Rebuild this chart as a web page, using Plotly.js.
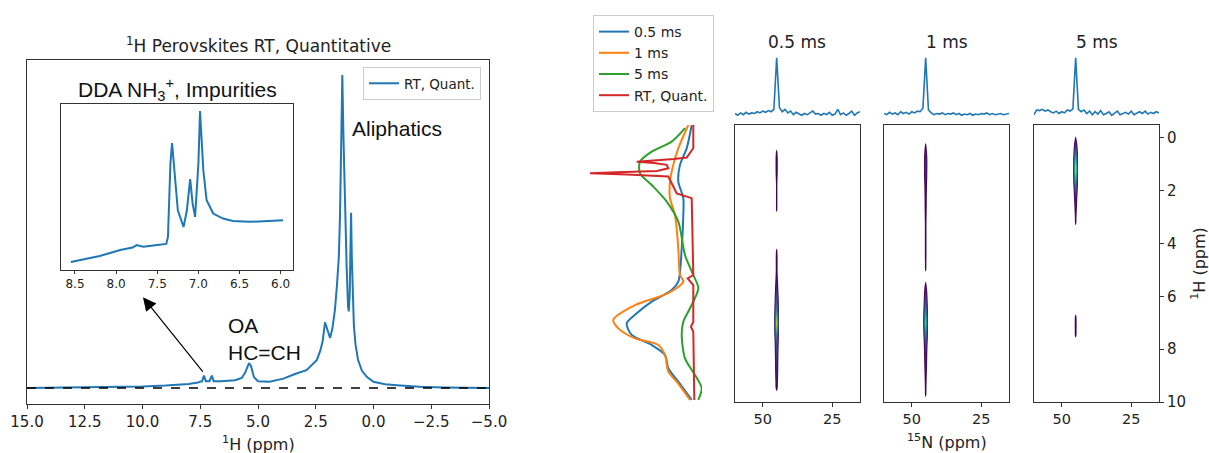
<!DOCTYPE html>
<html><head><meta charset="utf-8">
<script src="https://cdn.plot.ly/plotly-3.0.1.min.js"></script>
<style>html,body{margin:0;padding:0;background:#fff}#c{width:1209px;height:453px}</style>
</head><body><div id="c"></div>
<script>
// ---- Left: 1H quantitative spectrum (ppm, intensity) ----
const hX = [15, 12, 10, 9, 8, 7.6, 7.42, 7.34, 7.26, 7.1, 7.0, 6.92, 6.6, 6.0, 5.7, 5.55, 5.45, 5.39, 5.3, 5.18, 5.0, 4.5, 3.9, 3.4, 2.9, 2.6, 2.45, 2.3, 2.2, 2.1, 2.0, 1.88, 1.78, 1.67, 1.58, 1.5, 1.45, 1.4, 1.35, 1.3, 1.22, 1.16, 1.1, 1.07, 1.03, 1.0, 0.97, 0.94, 0.9, 0.85, 0.78, 0.67, 0.5, 0.28, 0, -0.5, -1.15, -2, -3, -5];
const hY = [0, 0.002, 0.005, 0.008, 0.013, 0.018, 0.022, 0.04, 0.022, 0.022, 0.04, 0.022, 0.022, 0.025, 0.032, 0.05, 0.072, 0.08, 0.07, 0.035, 0.022, 0.02, 0.03, 0.045, 0.057, 0.08, 0.09, 0.12, 0.15, 0.21, 0.19, 0.16, 0.19, 0.25, 0.33, 0.42, 0.55, 0.8, 1.0, 0.8, 0.5, 0.38, 0.26, 0.245, 0.3, 0.42, 0.56, 0.42, 0.3, 0.2, 0.14, 0.09, 0.055, 0.035, 0.02, 0.012, 0.008, 0.004, 0.002, 0];
// inset (8.5-6.0 ppm)
const insX = [8.55, 8.2, 7.95, 7.8, 7.75, 7.67, 7.5, 7.39, 7.37, 7.34, 7.32, 7.29, 7.25, 7.18, 7.14, 7.10, 7.07, 7.04, 7.0, 6.98, 6.94, 6.9, 6.82, 6.7, 6.58, 6.38, 6.2, 5.97];
const insY = [0.048, 0.084, 0.12, 0.135, 0.15, 0.14, 0.15, 0.157, 0.2, 0.64, 0.765, 0.6, 0.36, 0.259, 0.36, 0.548, 0.4, 0.32, 0.64, 0.958, 0.6, 0.42, 0.34, 0.31, 0.295, 0.29, 0.295, 0.30];
const mainTicks = [15, 12.5, 10, 7.5, 5, 2.5, 0, -2.5, -5];
const insTicks = [8.5, 8.0, 7.5, 7.0, 6.5, 6.0];

// ---- Right: 1H projections (intensity, ppm) ----
const blueP = [-0.49, 0.39, 1.02, 1.65, 2.28, 2.92, 4.18, 5.44, 5.76, 6.2, 6.7, 7.02, 7.46, 7.84, 8.22, 8.72, 9.23, 9.92];
const blueI = [10.3, 15.3, 22, 23.7, 18.7, 18.7, 20.3, 23.7, 30.3, 50.3, 67, 75.3, 70.3, 50.3, 37, 33.7, 23.7, 10.3];
const orangeP = [-0.49, 0.39, 1.02, 1.65, 2.28, 2.92, 4.18, 5.19, 5.44, 5.88, 6.33, 6.89, 7.21, 7.59, 7.84, 8.22, 8.85, 9.23, 9.92];
const orangeI = [13.7, 23.7, 28.7, 32, 32, 27, 23.7, 22, 18.7, 33.7, 67, 88.7, 83.7, 67, 43.7, 37, 33.7, 25.3, 12];
const greenP = [-0.37, 0.14, 0.52, 0.9, 1.34, 1.78, 2.41, 3.17, 4.43, 5.19, 5.69, 6.45, 6.96, 7.46, 8.35, 8.98, 9.48, 9.92];
const greenI = [17, 30.3, 50.3, 62, 62, 50.3, 35.3, 23.7, 17, 8.7, 3.7, 12, 18.7, 20.3, 17, 7, 0.3, 3.7];
const redP = [-0.49, 0.39, 0.74, 0.8, 0.86, 0.9, 0.95, 1.02, 1.15, 1.25, 1.3, 1.34, 1.38, 1.46, 1.84, 2.1, 2.28, 5.19, 5.32, 5.57, 6.96, 7.15, 7.34, 9.92];
const redI = [8.7, 8.7, 15.3, 28, 52, 65.3, 48, 35.3, 33.7, 45, 85, 112, 75, 33.7, 28.7, 25.3, 10.3, 8.7, 14.3, 8.7, 8.7, 11, 8.7, 7.7];

// ---- 2D HETCOR maps: 1H grid and intensity along the 15N ~45 ppm line ----
const hGrid = [-0.5, -0.25, 0, 0.25, 0.5, 0.75, 1, 1.25, 1.5, 1.75, 2, 2.25, 2.5, 2.75, 3, 3.25, 3.5, 3.75, 4, 4.25, 4.5, 4.75, 5, 5.25, 5.5, 5.75, 6, 6.25, 6.5, 6.75, 7, 7.25, 7.5, 7.75, 8, 8.25, 8.5, 8.75, 9, 9.25, 9.5, 9.75, 10];
const n15cols = [44, 45, 46];
const map05 = [0, 0, 0, 0, 0.15, 0.2, 0.2, 0.2, 0.18, 0.16, 0.16, 0.16, 0.16, 0.15, 0, 0, 0, 0, 0, 0.15, 0.18, 0.18, 0.18, 0.2, 0.25, 0.3, 0.4, 0.5, 0.65, 0.85, 1.0, 0.85, 0.6, 0.45, 0.38, 0.33, 0.3, 0.28, 0.25, 0.22, 0.18, 0, 0];
const map1 = [0, 0, 0, 0.15, 0.22, 0.3, 0.32, 0.3, 0.28, 0.24, 0.22, 0.2, 0.2, 0.19, 0.18, 0.17, 0.17, 0.17, 0.17, 0.17, 0.17, 0.16, 0.15, 0, 0.15, 0.25, 0.35, 0.45, 0.6, 0.8, 0.9, 0.75, 0.55, 0.4, 0.32, 0.28, 0.25, 0.22, 0.2, 0.18, 0.17, 0.15, 0];
const map5 = [0, 0, 0.15, 0.3, 0.5, 0.75, 0.95, 1.0, 0.85, 0.6, 0.42, 0.3, 0.24, 0.2, 0.17, 0.15, 0, 0, 0, 0, 0, 0, 0, 0, 0, 0, 0, 0, 0, 0.16, 0.18, 0.18, 0.16, 0, 0, 0, 0, 0, 0, 0, 0, 0, 0];

// ---- 15N projections on top ----
const nX = [60, 59, 58, 57, 56, 55, 54, 53, 52, 51, 50, 49, 48, 47, 46, 45, 44, 43, 42, 41, 40, 39, 38, 37, 36, 35, 34, 33, 32, 31, 30, 29, 28, 27, 26, 25, 24, 23, 22, 21, 20, 19, 18, 17, 16, 15];
const n05 = [0.06, 0.03, 0.07, 0.04, 0.08, 0.05, 0.07, 0.06, 0.09, 0.07, 0.1, 0.08, 0.11, 0.09, 0.13, 1.0, 0.16, 0.09, 0.13, 0.07, 0.1, 0.04, 0.08, 0.05, 0.03, 0.06, 0.04, 0.07, 0.1, 0.05, 0.06, 0.03, 0.06, 0.04, 0.08, 0.03, 0.05, 0.13, 0.04, 0.07, 0.03, 0.06, 0.1, 0.03, 0.07, 0.09];
const n1 = [0.06, 0.04, 0.08, 0.05, 0.07, 0.04, 0.09, 0.06, 0.08, 0.05, 0.09, 0.07, 0.1, 0.09, 0.15, 1.0, 0.12, 0.07, 0.04, 0.06, 0.05, 0.07, 0.04, 0.06, 0.05, 0.07, 0.04, 0.06, 0.03, 0.05, 0.04, 0.06, 0.03, 0.05, 0.04, 0.06, 0.05, 0.07, 0.04, 0.06, 0.04, 0.05, 0.06, 0.04, 0.05, 0.06];
const n5 = [0.04, 0.12, 0.11, 0.13, 0.1, 0.12, 0.09, 0.07, 0.1, 0.06, 0.09, 0.07, 0.12, 0.1, 0.14, 1.0, 0.13, 0.09, 0.12, 0.06, 0.1, 0.04, 0.09, 0.05, 0.11, 0.04, 0.06, 0.09, 0.03, 0.07, 0.1, 0.04, 0.06, 0.08, 0.05, 0.1, 0.04, 0.07, 0.09, 0.06, 0.1, 0.05, 0.08, 0.06, 0.09, 0.07];
const panelTitles = ['0.5 ms', '1 ms', '5 ms'];
const seriesNames = ['0.5 ms', '1 ms', '5 ms', 'RT, Quant.'];

const W = 1209, H = 453;
const dx = (a, b) => [a / W, b / W];
const dy = (t, b) => [1 - b / H, 1 - t / H];
const C = ['#1f77b4', '#ff7f0e', '#2ca02c', '#d62728'];
const DV = 'DejaVu Sans', LS = 'Liberation Sans';
const viridis = [[0, 'rgba(255,255,255,0)'], [0.08, 'rgba(255,255,255,0)'], [0.08, '#440154'], [0.18, '#482475'], [0.28, '#3e4a89'], [0.4, '#31688e'], [0.5, '#26828e'], [0.6, '#1f9e89'], [0.7, '#35b779'], [0.8, '#6ece58'], [0.9, '#b5de2b'], [1, '#fde725']];

const traces = [];
traces.push({x: hX, y: hY, xaxis: 'x', yaxis: 'y', mode: 'lines', line: {color: C[0], width: 2}, name: 'RT, Quant.', legend: 'legend', hoverinfo: 'skip'});
traces.push({x: insX, y: insY, xaxis: 'x2', yaxis: 'y2', mode: 'lines', line: {color: C[0], width: 2}, showlegend: false, hoverinfo: 'skip'});
const proj = [[blueI, blueP, 'spline'], [orangeI, orangeP, 'spline'], [greenI, greenP, 'spline'], [redI, redP, 'linear']];
proj.forEach((p, i) => traces.push({x: p[0], y: p[1], xaxis: 'x3', yaxis: 'y3', mode: 'lines', line: {color: C[i], width: 2, shape: p[2], smoothing: 0.8}, name: seriesNames[i], legend: 'legend2', hoverinfo: 'skip'}));
[map05, map1, map5].forEach((m, k) => traces.push({type: 'contour', x: n15cols, y: hGrid, z: m.map(v => [0, v, 0]), autocontour: false, contours: {start: 0.12, end: 1.0, size: 0.08, coloring: 'fill', showlines: false}, line: {width: 0}, colorscale: viridis, showscale: false, xaxis: 'x' + (4 + k), yaxis: 'y' + (4 + k), hoverinfo: 'skip'}));
[n05, n1, n5].forEach((s, k) => traces.push({x: nX, y: s, xaxis: 'x' + (7 + k), yaxis: 'y' + (7 + k), mode: 'lines', line: {color: C[0], width: 1.6}, showlegend: false, hoverinfo: 'skip'}));

const base = {showline: true, linecolor: '#333', linewidth: 1, mirror: true, ticks: 'outside', ticklen: 4, tickcolor: '#333', tickfont: {family: DV, size: 15, color: '#222'}, zeroline: false, showgrid: false};
const ax = o => Object.assign({}, base, o);
const hidden = o => Object.assign({visible: false, showgrid: false, zeroline: false}, o);

const layout = {
  width: W, height: H, margin: {l: 0, r: 0, t: 0, b: 0}, paper_bgcolor: '#fff', plot_bgcolor: 'rgba(0,0,0,0)',
  showlegend: true,
  xaxis: ax({domain: dx(27, 489), range: [15, -5], tickvals: mainTicks, tickformat: '.1f', anchor: 'y'}),
  yaxis: ax({domain: dy(60, 404), range: [-0.051, 1.048], ticks: '', showticklabels: false, anchor: 'x'}),
  xaxis2: ax({domain: dx(61, 293), range: [8.67, 5.85], tickvals: insTicks, tickformat: '.1f', tickfont: {family: DV, size: 12, color: '#222'}, ticklen: 3, anchor: 'y2'}),
  yaxis2: ax({domain: dy(104, 270), range: [0, 1], ticks: '', showticklabels: false, anchor: 'x2'}),
  xaxis3: hidden({domain: dx(585, 702), range: [117, 0], anchor: 'y3'}),
  yaxis3: hidden({domain: dy(125, 402), range: [10, -0.49], anchor: 'x3'}),
  legend: {x: 481 / W, xanchor: 'right', y: 1 - 67 / H, yanchor: 'top', bordercolor: '#ccc', borderwidth: 1, bgcolor: '#fff', font: {family: DV, size: 13.5, color: '#222'}},
  legend2: {x: 593 / W, xanchor: 'left', y: 1 - 15 / H, yanchor: 'top', bordercolor: '#ccc', borderwidth: 1, bgcolor: '#fff', font: {family: DV, size: 14, color: '#222'}},
  shapes: [{type: 'line', xref: 'x domain', x0: 0, x1: 1, yref: 'y', y0: 0, y1: 0, line: {color: '#000', width: 1.6, dash: 'dash'}}],
  annotations: []
};
const pdom = [[735, 860], [884, 1009], [1034, 1159]];
const txt = (text, px, py, size, fam) => ({text: text, xref: 'paper', yref: 'paper', x: px / W, y: 1 - py / H, xanchor: 'center', yanchor: 'middle', showarrow: false, font: {family: fam || DV, size: size, color: '#222'}});
pdom.forEach((d, k) => {
  const i = 4 + k, j = 7 + k;
  layout['xaxis' + i] = ax({domain: dx(d[0], d[1]), range: [60, 15], tickvals: [50, 25], tickfont: {family: DV, size: 14.5, color: '#222'}, anchor: 'y' + i});
  layout['yaxis' + i] = ax({domain: dy(125, 402), range: [10, -0.49], anchor: 'x' + i, ticks: '', showticklabels: false});
  layout['xaxis' + j] = hidden({domain: dx(d[0], d[1]), range: [60, 15], anchor: 'y' + j});
  layout['yaxis' + j] = hidden({domain: dy(52, 120), range: [-0.05, 1.1], anchor: 'x' + j});
  layout.annotations.push(txt(panelTitles[k], (d[0] + d[1]) / 2, 42, 17));
});
Object.assign(layout.yaxis6, {side: 'right', ticks: 'outside', showticklabels: true, tickvals: [0, 2, 4, 6, 8, 10], title: {text: '<sup>1</sup>H (ppm)', font: {family: DV, size: 16, color: '#222'}, standoff: 14}});

layout.annotations.push(
  txt('<sup>1</sup>H Perovskites RT, Quantitative', 258, 45, 17),
  txt('<sup>1</sup>H (ppm)', 258, 443, 16),
  txt('<sup>15</sup>N (ppm)', 946.5, 441, 16),
  Object.assign(txt('DDA NH<sub>3</sub><sup>+</sup>, Impurities', 177, 89, 21, LS), {font: {family: LS, size: 21, color: '#111'}}),
  {text: 'Aliphatics', xref: 'x', yref: 'y', x: 1.02, y: 0.83, xanchor: 'left', yanchor: 'middle', showarrow: false, font: {family: LS, size: 21, color: '#111'}},
  {text: 'OA<br>HC=CH', xref: 'x', yref: 'y', x: 6.4, y: 0.157, xanchor: 'left', yanchor: 'middle', align: 'left', showarrow: false, font: {family: LS, size: 21, color: '#111'}},
  {text: '', xref: 'x', yref: 'y', x: 9.98, y: 0.29, axref: 'x', ayref: 'y', ax: 7.34, ay: 0.048, showarrow: true, arrowhead: 2, arrowsize: 2.2, arrowwidth: 1.2, arrowcolor: '#000'}
);

Plotly.newPlot('c', traces, layout, {staticPlot: true, displayModeBar: false});
</script></body></html>
